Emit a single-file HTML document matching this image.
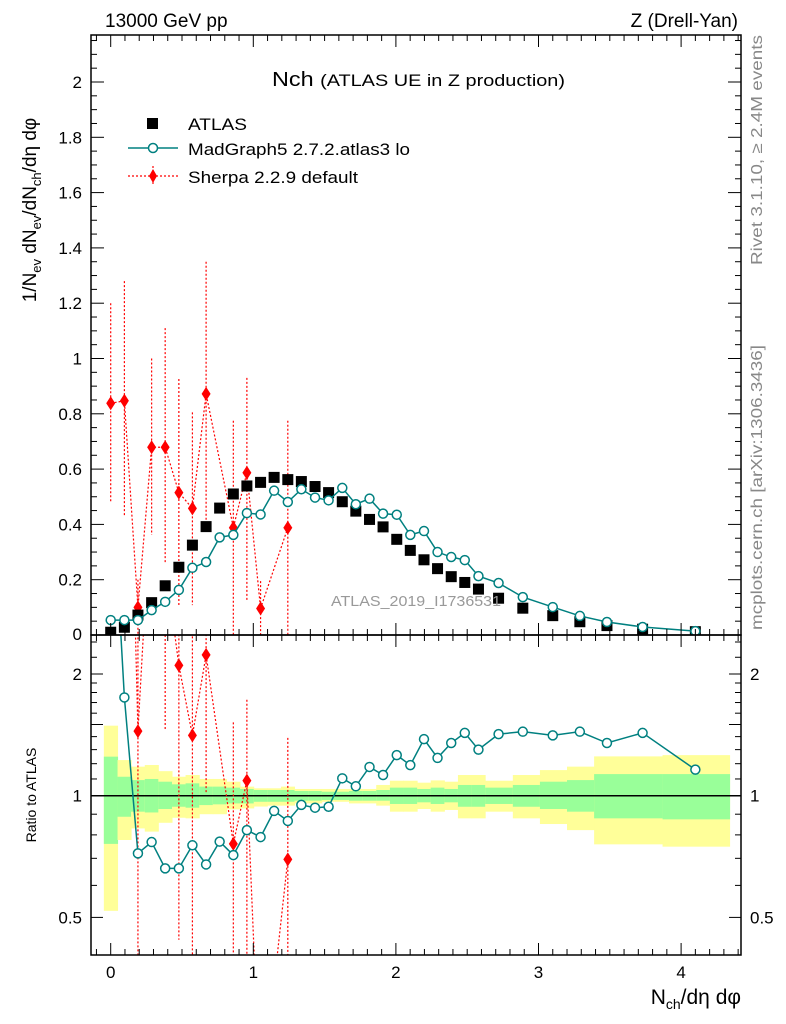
<!DOCTYPE html>
<html><head><meta charset="utf-8"><style>
html,body{margin:0;padding:0;background:#fff;width:786px;height:1024px;overflow:hidden;}
svg{display:block;font-family:"Liberation Sans",sans-serif;}
</style></head><body>
<svg id="chart" width="786" height="1024" viewBox="0 0 786 1024" xmlns="http://www.w3.org/2000/svg">
<defs>
<clipPath id="cm"><rect x="91" y="35" width="650" height="600"/></clipPath>
<clipPath id="cr"><rect x="91" y="635" width="650" height="320"/></clipPath>
</defs>
<text x="105" y="27" font-size="19">13000 GeV pp</text>
<text x="738" y="27" font-size="19" text-anchor="end">Z (Drell-Yan)</text>
<g id="bands" clip-path="url(#cr)"></g>
<g id="ratioG" clip-path="url(#cr)"></g>
<g id="mainG" clip-path="url(#cm)"></g>
<text x="331" y="606" font-size="15" fill="#999" textLength="170" lengthAdjust="spacingAndGlyphs">ATLAS_2019_I1736531</text>
<g id="axes"></g>
<text x="272" y="86" font-size="20" textLength="293" lengthAdjust="spacingAndGlyphs">Nch <tspan font-size="17">(ATLAS UE in Z production)</tspan></text>
<g>
<g><rect x="147" y="118" width="11" height="11" fill="#000"/><text x="188" y="130" font-size="17" textLength="59" lengthAdjust="spacingAndGlyphs">ATLAS</text></g>
<g><line x1="128" y1="148" x2="178" y2="148" stroke="#008080" stroke-width="1.5"/><circle cx="153" cy="148" r="4.5" fill="#fff" stroke="#008080" stroke-width="1.5"/><text x="188" y="155" font-size="17" textLength="222" lengthAdjust="spacingAndGlyphs">MadGraph5 2.7.2.atlas3 lo</text></g>
<g><line x1="128" y1="176" x2="178" y2="176" stroke="#f00" stroke-width="1.2" stroke-dasharray="2,2"/><line x1="153" y1="166" x2="153" y2="186" stroke="#f00" stroke-width="1.2" stroke-dasharray="2,2"/><path d="M153 169 L157 176 L153 183 L149 176Z" fill="#f00"/><text x="188" y="183" font-size="17" textLength="170" lengthAdjust="spacingAndGlyphs">Sherpa 2.2.9 default</text></g>
</g>
<text transform="translate(36,210) rotate(-90)" font-size="19" text-anchor="middle">1/N<tspan font-size="13" dy="5">ev</tspan><tspan dy="-5"> dN</tspan><tspan font-size="13" dy="5">ev</tspan><tspan dy="-5">/dN</tspan><tspan font-size="13" dy="5">ch</tspan><tspan dy="-5">/dη dφ</tspan></text>
<text transform="translate(36,795) rotate(-90)" font-size="14" text-anchor="middle">Ratio to ATLAS</text>
<text x="741" y="1004" font-size="21" text-anchor="end">N<tspan font-size="14" dy="5">ch</tspan><tspan dy="-5">/dη dφ</tspan></text>
<text transform="translate(762,265) rotate(-90)" font-size="16" fill="#888" textLength="230" lengthAdjust="spacingAndGlyphs">Rivet 3.1.10, ≥ 2.4M events</text>
<text transform="translate(762,630) rotate(-90)" font-size="16" fill="#888" textLength="285" lengthAdjust="spacingAndGlyphs">mcplots.cern.ch [arXiv:1306.3436]</text>
</svg>
<script>
const xs = [0,0.096,0.191,0.287,0.382,0.478,0.573,0.669,0.764,0.860,0.955,1.051,1.146,1.242,1.337,1.433,1.528,1.624,1.719,1.815,1.910,2.006,2.101,2.197,2.292,2.388,2.483,2.579,2.72,2.89,3.10,3.29,3.48,3.73,4.10];
const atlasVals = [0.01,0.028,0.072,0.117,0.178,0.245,0.325,0.392,0.459,0.51,0.539,0.552,0.570,0.562,0.555,0.537,0.515,0.482,0.448,0.418,0.391,0.346,0.306,0.272,0.24,0.211,0.19,0.166,0.133,0.097,0.07,0.048,0.034,0.021,0.012];
const mgVals = [0.054,0.054,0.054,0.09,0.12,0.163,0.243,0.264,0.353,0.362,0.441,0.436,0.522,0.481,0.527,0.497,0.487,0.532,0.473,0.493,0.439,0.435,0.362,0.376,0.30,0.282,0.271,0.213,0.188,0.137,0.101,0.069,0.047,0.029,0.014];
const mgRatio = [7,1.75,0.72,0.768,0.661,0.661,0.754,0.676,0.77,0.713,0.822,0.79,0.917,0.866,0.949,0.934,0.939,1.104,1.055,1.178,1.125,1.26,1.19,1.38,1.24,1.35,1.43,1.30,1.42,1.44,1.41,1.44,1.35,1.43,1.16];
const sherpaIdx = [0,1,2,3,4,5,6,7,9,10,11,13];
const sherpaVals = [0.838,0.847,0.1,0.679,0.679,0.515,0.458,0.872,0.388,0.587,0.096,0.388];
const sherpaUp = [1.2,1.28,0.2,1.0,1.11,0.926,0.805,1.35,0.775,0.93,0.195,0.775];
const sherpaDown = [0.482,0.427,0,0.362,0.26,0.108,0.108,0.398,0,0.127,0,0];
const sherpaRatio = [80,30,1.445,5.8,3.8,2.1,1.41,2.23,0.76,1.09,0.17,0.696];
const bandEdges = [-0.048,0.048,0.143,0.239,0.334,0.430,0.525,0.621,0.716,0.812,0.907,1.003,1.098,1.194,1.289,1.385,1.480,1.576,1.671,1.767,1.862,1.958,2.053,2.149,2.244,2.340,2.435,2.531,2.626,2.82,3.01,3.20,3.39,3.87,4.34];
const yellowUp = [1.49,1.225,1.18,1.191,1.15,1.114,1.125,1.1,1.1,1.083,1.053,1.043,1.043,1.053,1.039,1.039,1.039,1.039,1.039,1.039,1.063,1.089,1.089,1.077,1.091,1.083,1.125,1.125,1.089,1.125,1.157,1.18,1.251,1.26];
const yellowLo = [0.519,0.777,0.83,0.815,0.857,0.882,0.879,0.9,0.9,0.925,0.93,0.94,0.945,0.945,0.957,0.957,0.966,0.966,0.957,0.957,0.945,0.913,0.913,0.927,0.913,0.922,0.879,0.879,0.913,0.879,0.851,0.822,0.758,0.748];
const greenUp = [1.249,1.114,1.093,1.1,1.083,1.067,1.073,1.053,1.053,1.047,1.039,1.033,1.033,1.033,1.027,1.027,1.023,1.023,1.027,1.027,1.033,1.047,1.047,1.039,1.047,1.039,1.063,1.063,1.047,1.063,1.083,1.093,1.131,1.131];
const greenLo = [0.76,0.887,0.913,0.909,0.927,0.939,0.934,0.948,0.952,0.957,0.957,0.966,0.966,0.966,0.972,0.972,0.976,0.976,0.972,0.972,0.972,0.954,0.954,0.963,0.954,0.963,0.939,0.939,0.954,0.939,0.927,0.913,0.879,0.874];
const xTicks = [0,1,2,3,4];
const yTicks = [0,0.2,0.4,0.6,0.8,1,1.2,1.4,1.6,1.8,2];
const yTickLabels = ["0","0.2","0.4","0.6","0.8","1","1.2","1.4","1.6","1.8","2"];
const rTicks = [0.5,1,2];
const rTickLabels = ["0.5","1","2"];

const NS="http://www.w3.org/2000/svg";
const L=91,R=741,T=35,MB=635,RB=955;
function sx(x){return 110.7+x*142.6;}
function sy(v){return 635-v*276.5;}
function ry(r){return 795.7-Math.log2(r)*121.7;}
function mk(tag,attrs,parent){const e=document.createElementNS(NS,tag);for(const k in attrs)e.setAttribute(k,attrs[k]);parent.appendChild(e);return e;}

const bands=document.getElementById('bands');
for(let i=0;i<yellowUp.length;i++){
  const x0=sx(bandEdges[i]),x1=sx(bandEdges[i+1]);
  const y=mk('rect',{x:x0,y:ry(yellowUp[i]),width:x1-x0+0.5,height:ry(yellowLo[i])-ry(yellowUp[i]),fill:'#ffff99'},bands);
  
  
  const g=mk('rect',{x:x0,y:ry(greenUp[i]),width:x1-x0+0.5,height:ry(greenLo[i])-ry(greenUp[i]),fill:'#99ff99'},bands);
  
  
}
const ref=mk('line',{x1:L,x2:R,y1:ry(1),y2:ry(1),stroke:'#000','stroke-width':1.5},bands);



const mainG=document.getElementById('mainG');
const ratioG=document.getElementById('ratioG');
let sp=sherpaIdx.map((k,i)=>sx(xs[k])+','+sy(sherpaVals[i])).join(' ');
const sl=mk('polyline',{points:sp,fill:'none',stroke:'#f00','stroke-width':1.2,'stroke-dasharray':'2,2'},mainG);


sherpaIdx.forEach((k,i)=>{
  const x=sx(xs[k]);
  const eb=mk('line',{x1:x,x2:x,y1:sy(sherpaUp[i]),y2:sy(sherpaDown[i]),stroke:'#f00','stroke-width':1.2,'stroke-dasharray':'2,2'},mainG);
  
  
  const y=sy(sherpaVals[i]);
  const d=mk('path',{d:`M${x} ${y-7}L${x+4.5} ${y}L${x} ${y+7}L${x-4.5} ${y}Z`,fill:'#f00'},mainG);
  
  
});
xs.forEach((x,i)=>{
  const r=mk('rect',{x:sx(x)-5.5,y:sy(atlasVals[i])-5.5,width:11,height:11,fill:'#000'},mainG);
  
  
});
const ml=mk('polyline',{points:xs.map((x,i)=>sx(x)+','+sy(mgVals[i])).join(' '),fill:'none',stroke:'#008080','stroke-width':1.5},mainG);


xs.forEach((x,i)=>{
  const c=mk('circle',{cx:sx(x),cy:sy(mgVals[i]),r:4.5,fill:'#fff',stroke:'#008080','stroke-width':1.5},mainG);
  
  
});
const srl=mk('polyline',{points:sherpaIdx.map((k,i)=>sx(xs[k])+','+ry(sherpaRatio[i])).join(' '),fill:'none',stroke:'#f00','stroke-width':1.2,'stroke-dasharray':'2,2'},ratioG);


sherpaIdx.forEach((k,i)=>{
  const x=sx(xs[k]),r=sherpaRatio[i];
  const up=r*sherpaUp[i]/sherpaVals[i], dn=Math.max(r*sherpaDown[i]/sherpaVals[i],0.01);
  const eb=mk('line',{x1:x,x2:x,y1:ry(up),y2:ry(dn),stroke:'#f00','stroke-width':1.2,'stroke-dasharray':'2,2'},ratioG);
  
  
  const y=ry(r);
  const d=mk('path',{d:`M${x} ${y-7}L${x+4.5} ${y}L${x} ${y+7}L${x-4.5} ${y}Z`,fill:'#f00'},ratioG);
  
  
});
const mrl=mk('polyline',{points:xs.map((x,i)=>sx(x)+','+ry(mgRatio[i])).join(' '),fill:'none',stroke:'#008080','stroke-width':1.5},ratioG);


xs.forEach((x,i)=>{
  const c=mk('circle',{cx:sx(x),cy:ry(mgRatio[i]),r:4.5,fill:'#fff',stroke:'#008080','stroke-width':1.5},ratioG);
  
  
});

const ax=document.getElementById('axes');
function ln(x1,y1,x2,y2,w){return mk('line',{x1,y1,x2,y2,stroke:'#000','stroke-width':w||1},ax);}
const f1=mk('rect',{x:L,y:T,width:R-L,height:MB-T,fill:'none',stroke:'#000','stroke-width':1.5},ax);


const f2=mk('rect',{x:L,y:MB,width:R-L,height:RB-MB,fill:'none',stroke:'#000','stroke-width':1.5},ax);


for(let v=-0.1;v<=4.41;v+=0.1){
  const x=sx(Math.round(v*10)/10);
  if(x<L||x>R)continue;
  const major=Math.abs(v-Math.round(v))<1e-6;
  const len=major?12:6;
  [MB,RB].forEach(b=>{ln(x,b,x,b-len);});
  [T,MB].forEach(t=>{ln(x,t,x,t+len);});
}
xTicks.forEach((v,i)=>{
  const t=mk('text',{x:sx(v),y:978,'font-size':17,'text-anchor':'middle'},ax);
  t.textContent=String(v);
  
  
});
for(let k=0;k<=43;k++){
  const v=k*0.05,y=sy(v);
  if(y<T)continue;
  const len=(k%4===0)?13:6;
  ln(L,y,L+len,y);ln(R,y,R-len,y);
}
yTicks.forEach((v,i)=>{
  const t=mk('text',{x:82,y:(v===0?640:sy(v)+6),'font-size':17,'text-anchor':'end'},ax);
  t.textContent=yTickLabels[i];
  
  
});
[0.4,0.6,0.7,0.8,0.9,1.1,1.2,1.3,1.4,1.6,1.7,1.8,1.9,2.2,2.4].forEach(v=>{const y=ry(v);if(y<MB||y>RB)return;ln(L,y,L+6,y);ln(R,y,R-6,y);});
[0.5,1,1.5,2].forEach(v=>{const y=ry(v);ln(L,y,L+12,y);ln(R,y,R-12,y);});
rTicks.forEach((v,i)=>{
  const t=mk('text',{x:82,y:ry(v)+6,'font-size':17,'text-anchor':'end'},ax);
  t.textContent=rTickLabels[i];
  
  
  const t2=mk('text',{x:750,y:ry(v)+6,'font-size':17},ax);
  t2.textContent=rTickLabels[i];
  
  
});
</script>
</body></html>
